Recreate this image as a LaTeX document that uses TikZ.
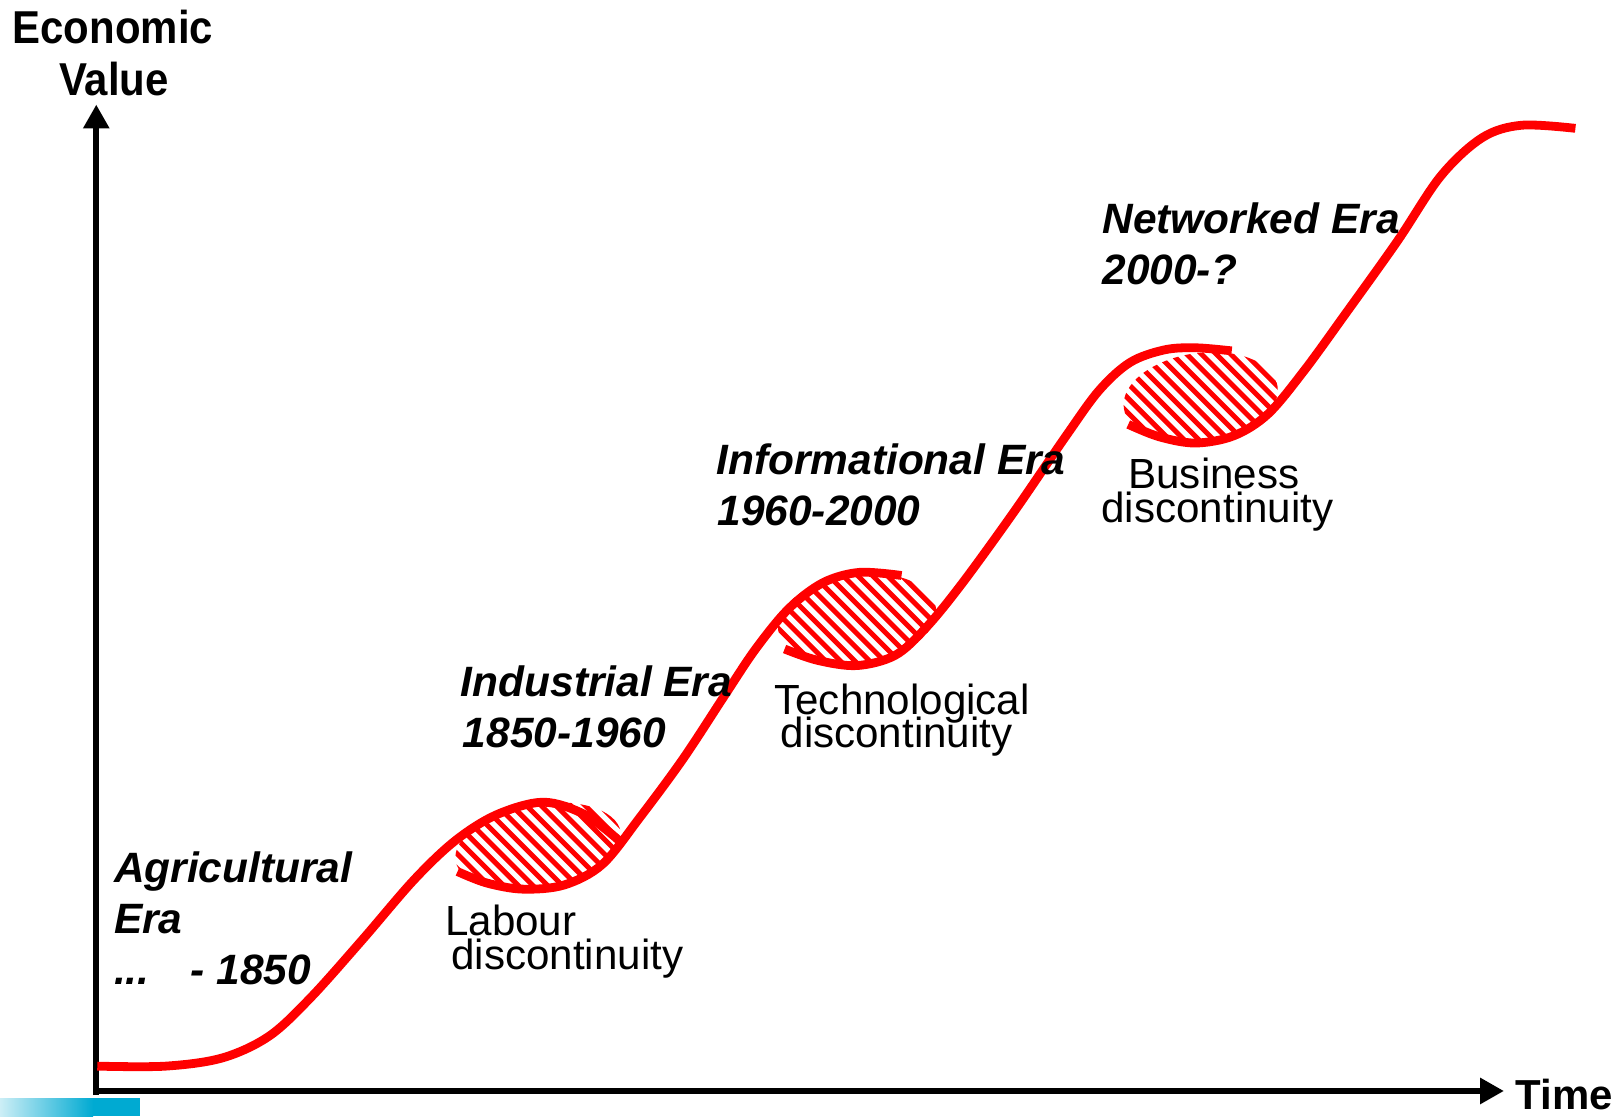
\documentclass[tikz,border=0pt]{standalone}
\usepackage{fontspec}
\setmainfont{Liberation Sans}
\usetikzlibrary{arrows.meta}
\definecolor{logocyan}{RGB}{0,170,210}
\newcommand\hatchblob[5]{%
  \begin{scope}
    \clip[rotate around={#5:(#1,#2)}] (#1,#2) ellipse [x radius=#3, y radius=#4];
    \foreach \k in {-14,...,14}
      \draw[hatchline] (#1+\k*14.2-110,#2-110) -- ++(220,220);
  \end{scope}}
\begin{document}
\begin{tikzpicture}[x=1pt,y=-1pt,
  axis/.style={line width=6pt,-{Triangle[width=24pt,length=23pt]}},
  curve/.style={red,line width=8.5pt},
  hatchline/.style={red,line width=4.8pt},
  era/.style={anchor=base west,inner sep=0pt,font=\fontsize{41}{49}\selectfont\bfseries\itshape},
  disc/.style={anchor=base west,inner sep=0pt,font=\fontsize{40.7}{41}\selectfont},
  axlabel/.style={anchor=base,inner sep=0pt,font=\fontsize{40.5}{48}\selectfont\bfseries}]
\useasboundingbox (0,0) rectangle (1568,1078.2);

% logo fragment
\shade[left color=logocyan!20,right color=logocyan] (0,1061) rectangle (90,1078.2);
\fill[logocyan] (90,1061) rectangle (135,1078.2);

% axes
\coordinate (O) at (93,1058);
\coordinate (ytip) at (93,101);
\coordinate (xs) at (90,1054);
\coordinate (xtip) at (1453,1054);
\draw[axis] (O) -- (ytip);
\draw[axis] (xs) -- (xtip);

\node[axlabel] (econ) at (109,42) {\scalebox{1}[1.1]{Economic}};
\node[axlabel] (val) at (110,92) {\scalebox{1}[1.1]{Value}};
\node[anchor=base west,inner sep=0pt,font=\fontsize{40.5}{48}\selectfont\bfseries] (time) at (1464,1072) {Time};

% hatched blobs
\hatchblob{520}{818}{81}{41}{10}
\hatchblob{828}{598}{77}{43}{8}
\hatchblob{1160}{384}{75}{43}{8}

% red curve segments
\draw[curve] plot[smooth,tension=0.55] coordinates {(94,1030) (160,1030) (215,1022) (260,1001) (300,964) (350,908) (400,850) (440,812) (480,787) (525,775) (565,787) (598,812)};
\draw[curve] plot[smooth,tension=0.55] coordinates {(442,842) (470,853) (505,859) (545,855) (582,835) (618,790) (660,733) (700,672) (730,627) (762,588) (795,563) (830,553) (871,556)};
\draw[curve] plot[smooth,tension=0.55] coordinates {(758,627) (790,638) (828,643) (865,633) (895,606) (930,563) (980,494) (1030,421) (1062,377) (1092,350) (1125,338) (1155,336) (1190,339)};
\draw[curve] plot[smooth,tension=0.55] coordinates {(1090,410) (1120,422) (1155,428) (1192,421) (1225,400) (1260,358) (1300,303) (1350,233) (1392,170) (1432,133) (1470,121) (1522,124)};

% era labels
\node[era] (agr1) at (110,853) {Agricultural};
\node[era] (agr2) at (110,902) {Era};
\node[era] (agr3) at (110,951) {...\hspace{40pt}- 1850};
\node[era] (ind1) at (445,673) {Industrial Era};
\node[era] (ind2) at (447,722) {1850-1960};
\node[era] (inf1) at (692,458) {Informational Era};
\node[era] (inf2) at (693,508) {1960-2000};
\node[era] (net1) at (1065,226) {Networked Era};
\node[era] (net2) at (1065,275) {2000-?};

% discontinuity labels
\node[disc] (lab1) at (430,904) {Labour};
\node[disc] (lab2) at (436,937) {discontinuity};
\node[disc] (tec1) at (748,690) {Technological};
\node[disc] (tec2) at (754,722) {discontinuity};
\node[disc] (bus1) at (1090,472) {Business};
\node[disc] (bus2) at (1064,505) {discontinuity};
\end{tikzpicture}
\end{document}
